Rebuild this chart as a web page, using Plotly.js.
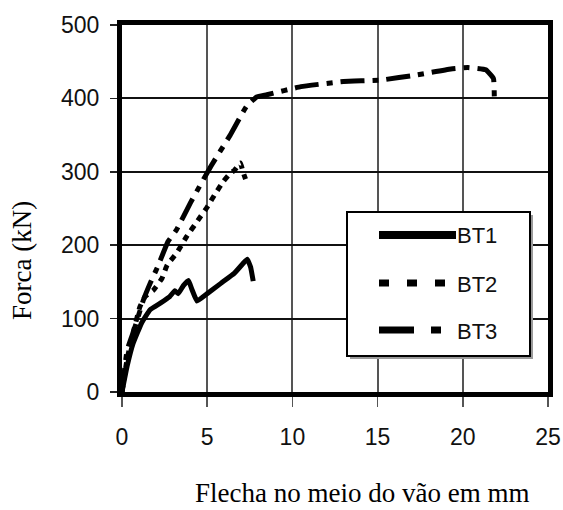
<!DOCTYPE html>
<html>
<head>
<meta charset="utf-8">
<script src="https://cdn.plot.ly/plotly-3.0.1.min.js"></script>
<style>
  html, body { margin: 0; padding: 0; background: #ffffff; }
  #chart { width: 563px; height: 510px; }
</style>
</head>
<body>
<div id="chart"></div>
<script>
// Load–deflection curves of the three beams (deflection in mm, force in kN)
const seriesNames = ['BT1', 'BT2', 'BT3'];

const bt1Deflection = [0, 0.3, 0.65, 1.15, 1.65, 2.25, 2.8, 3.1, 3.3, 3.6, 3.9, 4.1, 4.4, 5.0, 5.8, 6.6, 7.1, 7.35, 7.55, 7.7];
const bt1Force      = [0, 35, 66, 94, 112, 121, 130, 138, 134, 145, 152, 140, 124, 134, 148, 162, 175, 181, 170, 151];

const bt2Deflection = [0, 0.3, 0.7, 1.05, 1.35, 1.85, 2.35, 2.65, 3.2, 3.8, 4.4, 5.0, 5.5, 5.95, 6.35, 6.6, 6.95, 7.1, 7.25];
const bt2Force      = [0, 45, 85, 116, 130, 139, 155, 173, 189, 212, 232, 252, 271, 287, 298, 302, 312, 300, 290];

const bt3Deflection = [0, 0.3, 0.7, 1.25, 1.65, 2.1, 2.7, 3.2, 4.0, 5.2, 6.35, 7.3, 7.9, 8.5, 10.5, 13.0, 15.2, 17.3, 19.3, 20.3, 21.35, 21.8, 21.85];
const bt3Force      = [0, 57, 84, 125, 148, 171, 205, 221, 257, 307, 350, 389, 402, 405, 416, 423, 425, 432, 440, 442, 439, 427, 402];

const xTickValues = [0, 5, 10, 15, 20, 25];
const yTickValues = [0, 100, 200, 300, 400, 500];

const xTitle = 'Flecha no meio do vão em mm';
const yTitle = 'Forca (kN)';

// Line styles per series
const styles = [
  { dash: 'solid',            width: 5 },
  { dash: '6px,6px',          width: 5 },
  { dash: '24px,8px,6px,8px', width: 5 }
];
// Legend sample styles (drawn larger than the curves)
const legendStyles = [
  { dash: 'solid',                width: 8, len: 77 },
  { dash: '10px,18px',            width: 7, len: 68 },
  { dash: '35px,17px,10px,20px',  width: 7, len: 62 }
];

const W = 563, H = 510;
const margin = { l: 122, r: 15, t: 25, b: 118, pad: 0 };
const plotW = W - margin.l - margin.r;
const plotH = H - margin.t - margin.b;
// pixel -> paper coordinates
const px = x => (x - margin.l) / plotW;
const py = y => (H - margin.b - y) / plotH;

const xs = [bt1Deflection, bt2Deflection, bt3Deflection];
const ys = [bt1Force, bt2Force, bt3Force];

const traces = seriesNames.map((name, i) => ({
  type: 'scatter',
  mode: 'lines',
  name: name,
  x: xs[i],
  y: ys[i],
  line: { color: '#000000', width: styles[i].width, dash: styles[i].dash, shape: 'spline', smoothing: 0.3 },
  showlegend: false,
  hoverinfo: 'x+y+name'
}));

// Boxed legend inside the plot
const box = { x0: 347, y0: 212, x1: 530, y1: 356 };
const shapes = [
  { type: 'rect', xref: 'paper', yref: 'paper', layer: 'above',
    x0: px(box.x0 + 3), x1: px(box.x1 + 3), y0: py(box.y1 + 3), y1: py(box.y0 + 3),
    line: { width: 0 }, fillcolor: '#9a9a9a' },
  { type: 'rect', xref: 'paper', yref: 'paper', layer: 'above',
    x0: px(box.x0), x1: px(box.x1), y0: py(box.y1), y1: py(box.y0),
    line: { color: '#000000', width: 2 }, fillcolor: '#ffffff' }
];
const rowY = [235, 283, 330];
const annotations = [];
seriesNames.forEach((name, i) => {
  shapes.push({
    type: 'line', xref: 'paper', yref: 'paper', layer: 'above',
    x0: px(379), x1: px(379 + legendStyles[i].len), y0: py(rowY[i]), y1: py(rowY[i]),
    line: { color: '#000000', width: legendStyles[i].width, dash: legendStyles[i].dash }
  });
  annotations.push({
    xref: 'paper', yref: 'paper', x: px(455), y: py(rowY[i] + 1),
    xanchor: 'left', yanchor: 'middle', showarrow: false,
    text: name, font: { family: 'Liberation Sans, Arial, sans-serif', size: 22, color: '#111111' }
  });
});

// Axis titles
annotations.push({
  xref: 'paper', yref: 'paper', x: px(362), y: py(493),
  xanchor: 'center', yanchor: 'middle', showarrow: false,
  text: xTitle, font: { family: 'Liberation Serif, Times New Roman, serif', size: 27, color: '#000000' }
});
annotations.push({
  xref: 'paper', yref: 'paper', x: px(22), y: py(261),
  xanchor: 'center', yanchor: 'middle', showarrow: false, textangle: -90,
  text: yTitle, font: { family: 'Liberation Serif, Times New Roman, serif', size: 27, color: '#000000' }
});

const tickFont = { family: 'Liberation Sans, Arial, sans-serif', size: 23, color: '#111111' };

const layout = {
  width: W, height: H,
  margin: margin,
  paper_bgcolor: '#ffffff',
  plot_bgcolor: '#ffffff',
  showlegend: false,
  xaxis: {
    range: [0, 25], tickvals: xTickValues, ticktext: xTickValues.map(String),
    showgrid: true, gridcolor: '#555555', gridwidth: 2, zeroline: false,
    showline: true, linecolor: '#000000', linewidth: 5, mirror: true,
    ticks: 'outside', ticklen: 10, tickwidth: 1.5, tickcolor: '#555555',
    tickfont: tickFont, ticklabelstandoff: 10, fixedrange: true
  },
  yaxis: {
    range: [0, 500], tickvals: yTickValues, ticktext: yTickValues.map(String),
    showgrid: true, gridcolor: '#111111', gridwidth: 2, zeroline: false,
    showline: true, linecolor: '#000000', linewidth: 5, mirror: true,
    ticks: 'outside', ticklen: 7, tickwidth: 1.5, tickcolor: '#222222',
    tickfont: tickFont, ticklabelstandoff: 6, fixedrange: true
  },
  shapes: shapes,
  annotations: annotations
};

Plotly.newPlot('chart', traces, layout, { displayModeBar: false, staticPlot: true });
</script>
</body>
</html>
